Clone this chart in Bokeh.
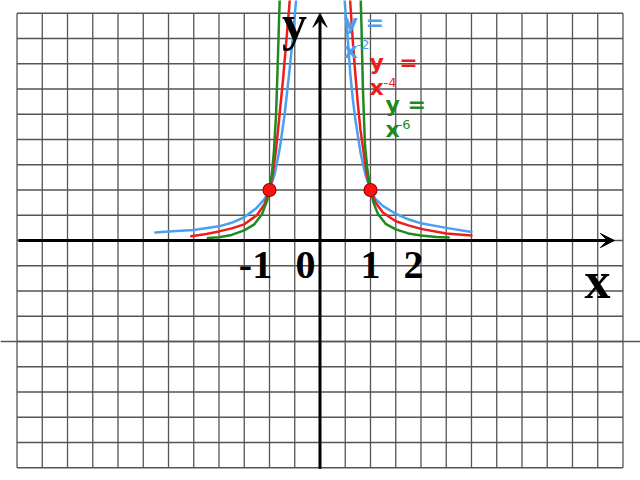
from bokeh.plotting import figure
from bokeh.models import Arrow, VeeHead, Label, Span
from bokeh.embed import file_html
from bokeh.resources import INLINE

# ---- data ---------------------------------------------------------------
# grid of half-unit squares (graph paper)
grid_x = [v / 2 for v in range(-12, 13)]
grid_y = [v / 2 for v in range(-9, 10)]

tick_values = [-1, 0, 1, 2]
tick_labels = ["-1", "0", "1", "2"]

# y = x^-2 (blue)
blue_left_x = [-3.26, -3.0, -2.5, -2.0, -1.75, -1.5, -1.25, -1.1, -1.0, -0.9, -0.8, -0.7, -0.6, -0.53, -0.47]
blue_left_y = [0.16, 0.18, 0.21, 0.28, 0.35, 0.46, 0.65, 0.82, 1.0, 1.3, 1.8, 2.5, 3.4, 4.1, 4.8]
blue_right_x = [0.47, 0.5, 0.55, 0.6, 0.65, 0.7, 0.8, 0.9, 1.0, 1.1, 1.25, 1.5, 1.75, 2.0, 2.5, 3.0]
blue_right_y = [5.0, 4.6, 4.0, 3.3, 2.8, 2.4, 1.75, 1.3, 1.0, 0.82, 0.68, 0.53, 0.42, 0.34, 0.25, 0.17]

# y = x^-4 (red)
red_left_x = [-2.55, -2.25, -2.0, -1.75, -1.5, -1.25, -1.1, -1.0, -0.93, -0.87, -0.8, -0.74, -0.68, -0.62, -0.58]
red_left_y = [0.085, 0.13, 0.18, 0.24, 0.32, 0.5, 0.72, 1.0, 1.35, 1.8, 2.5, 3.1, 3.8, 4.5, 5.0]
red_right_x = [0.58, 0.62, 0.66, 0.7, 0.75, 0.8, 0.87, 0.93, 1.0, 1.1, 1.25, 1.5, 1.75, 2.0, 2.5, 3.0]
red_right_y = [5.0, 4.4, 3.8, 3.3, 2.7, 2.2, 1.7, 1.3, 1.0, 0.75, 0.55, 0.38, 0.3, 0.23, 0.14, 0.10]

# y = x^-6 (green)
green_left_x = [-2.22, -2.0, -1.75, -1.5, -1.3, -1.15, -1.05, -1.0, -0.95, -0.91, -0.87, -0.84, -0.81, -0.79]
green_left_y = [0.05, 0.065, 0.11, 0.2, 0.32, 0.52, 0.78, 1.0, 1.35, 1.8, 2.5, 3.4, 4.4, 5.0]
green_right_x = [0.8, 0.82, 0.85, 0.89, 0.94, 1.0, 1.06, 1.15, 1.3, 1.5, 1.75, 2.0, 2.3, 2.55]
green_right_y = [5.0, 4.3, 3.0, 1.9, 1.4, 1.0, 0.75, 0.52, 0.33, 0.22, 0.14, 0.10, 0.07, 0.06]

# common points
points_x = [-1, 1]
points_y = [1, 1]

BLUE = "#4a9ff0"
RED = "#ee1c1c"
GREEN = "#1f8a1f"
GRID = "#555555"

# ---- figure -------------------------------------------------------------
p = figure(width=640, height=480, x_range=(-6.327, 6.347), y_range=(-4.752, 4.752),
           output_backend="svg", toolbar_location=None,
           x_axis_location=None, y_axis_location=None, min_border=0)
p.outline_line_color = None
p.background_fill_color = "white"
p.grid.visible = False

# graph-paper grid, bounded to the sheet
p.segment(x0=grid_x, y0=[grid_y[0]] * len(grid_x), x1=grid_x, y1=[grid_y[-1]] * len(grid_x),
          line_color=GRID, line_width=1.3)
p.segment(x0=[grid_x[0]] * len(grid_y), y0=grid_y, x1=[grid_x[-1]] * len(grid_y), y1=grid_y,
          line_color=GRID, line_width=1.3)
p.add_layout(Span(location=-2, dimension="width", line_color=GRID, line_width=1.3))

# curves
for xs, ys, c in [(blue_left_x, blue_left_y, BLUE), (blue_right_x, blue_right_y, BLUE),
                  (red_left_x, red_left_y, RED), (red_right_x, red_right_y, RED),
                  (green_left_x, green_left_y, GREEN), (green_right_x, green_right_y, GREEN)]:
    p.line(xs, ys, line_color=c, line_width=2.5, line_join="round", line_cap="round")

# axes with arrows
p.add_layout(Arrow(end=VeeHead(size=14, fill_color="black", line_color="black"),
                   x_start=-5.97, y_start=0, x_end=5.83, y_end=0,
                   line_width=3, line_color="black"))
p.add_layout(Arrow(end=VeeHead(size=14, fill_color="black", line_color="black"),
                   x_start=0, y_start=-4.52, x_end=0, y_end=4.5,
                   line_width=3, line_color="black"))

p.scatter(points_x, points_y, size=13, fill_color="#ff1010", line_color="#a00000", line_width=1.2)

# tick labels
label_shift = [-0.277, -0.287, 0.0, -0.149]
for v, t, s in zip(tick_values, tick_labels, label_shift):
    p.add_layout(Label(x=v + s, y=-0.49, text=t, text_font="Liberation Serif",
                       text_font_style="bold", text_font_size="40px",
                       text_align="center", text_baseline="alphabetic", text_color="black"))

# axis names
p.add_layout(Label(x=-0.505, y=4.31, text="y", text_font="Liberation Serif", text_font_style="bold",
                   text_font_size="50px", text_align="center", text_baseline="alphabetic",
                   text_color="black"))
p.add_layout(Label(x=5.495, y=-0.80, text="x", text_font="Liberation Serif", text_font_style="bold",
                   text_font_size="52px", text_align="center", text_baseline="alphabetic",
                   text_color="black"))

# curve names
names = [
    ("y =", "x", "-2", BLUE, (0.465, 4.32), (0.465, 3.77), (0.723, 3.88)),
    ("y\u00a0\u00a0=", "x", "-4", RED, (0.980, 3.53), (0.980, 3.03), (1.257, 3.13)),
    ("y =", "x", "-6", GREEN, (1.297, 2.70), (1.297, 2.20), (1.535, 2.30)),
]
for l1, l2, sup, c, p1, p2, p3 in names:
    p.add_layout(Label(x=p1[0], y=p1[1], text=l1, text_font="DejaVu Sans", text_font_style="bold",
                       text_font_size="22px", text_color=c, text_baseline="alphabetic"))
    p.add_layout(Label(x=p2[0], y=p2[1], text=l2, text_font="DejaVu Sans", text_font_style="bold",
                       text_font_size="22px", text_color=c, text_baseline="alphabetic"))
    p.add_layout(Label(x=p3[0], y=p3[1], text=sup, text_font="DejaVu Sans",
                       text_font_size="13px", text_color=c, text_baseline="alphabetic"))

open("out.html", "w").write(file_html(p, INLINE))
